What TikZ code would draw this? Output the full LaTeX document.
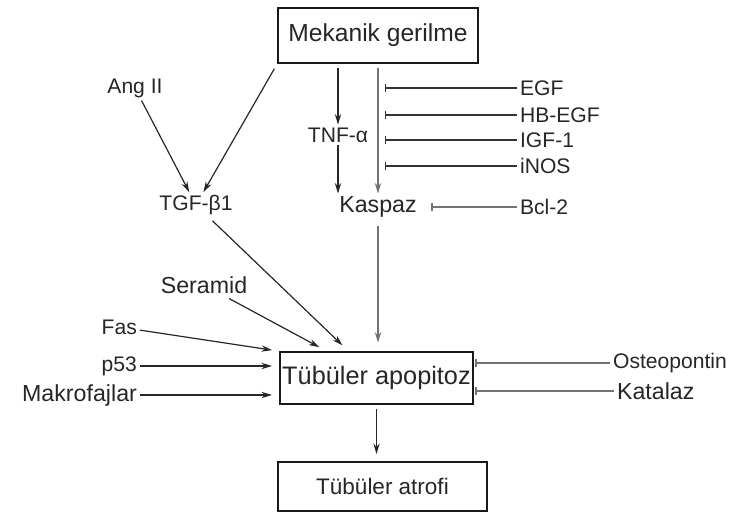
\documentclass[tikz,border=0pt]{standalone}
\usepackage{fontspec}
\setmainfont{Liberation Sans}
\usetikzlibrary{arrows.meta}

\begin{document}
\begin{tikzpicture}[x=0.025cm,y=-0.025cm,
  box/.style={draw=black!90,line width=1.2pt,inner sep=0pt,font=\fontsize{17}{19}\selectfont,text=black!85},
  lbl/.style={inner sep=2pt,font=\fontsize{15}{17}\selectfont,text=black!85},
  big/.style={lbl,font=\fontsize{16.5}{18}\selectfont},
  act/.style={-{Stealth[length=7.5pt,width=4.5pt]},draw=black!85,line width=0.85pt},
  actg/.style={act,draw=black!55,line width=1.3pt},
  inh/.style={-{Bar[width=6pt]},draw=black!80,line width=0.85pt},
  inhg/.style={inh,draw=black!55,line width=1.3pt}]
\useasboundingbox (0,0) rectangle (734,513);

% Boxes
\node[box,font=\fontsize{17.5}{19}\selectfont,minimum width=5cm,minimum height=1.375cm] (mek) at (378,35.5) {Mekanik gerilme};
\node[box,font=\fontsize{18}{20}\selectfont,minimum width=4.83cm,minimum height=1.3cm] (apop) at (376.5,378) {Tübüler apopitoz};
\node[box,font=\fontsize{16}{18}\selectfont,minimum width=5.23cm,minimum height=1.23cm] (atrofi) at (382.5,486.5) {Tübüler atrofi};

% Mediators
\node[lbl] (ang) at (135,88) {Ang II};
\node[lbl] (tgf) at (196,205) {TGF-β1};
\node[lbl] (tnf) at (338,135) {TNF-α};
\node[big] (kaspaz) at (378,207) {Kaspaz};
\node[big] (seramid) at (204,285) {Seramid};

% Inhibitors on the right
\node[lbl,anchor=west] (egf) at (517,88) {EGF};
\node[lbl,anchor=west] (hbegf) at (517,115) {HB-EGF};
\node[lbl,anchor=west] (igf) at (517,140) {IGF-1};
\node[lbl,anchor=west] (inos) at (517,166) {iNOS};
\node[lbl,anchor=west] (bcl) at (517,207) {Bcl-2};
\node[lbl,anchor=west] (osteo) at (610,363) {Osteopontin};
\node[big,anchor=west] (katalaz) at (614,391) {Katalaz};

% Inputs on the left
\node[lbl,anchor=east] (fas) at (140,327) {Fas};
\node[lbl,anchor=east] (p53) at (140,366) {p53};
\node[big,anchor=east] (makro) at (140,395) {Makrofajlar};

% Upper part
\draw[act] (ang) -- (tgf);
\draw[act,shorten <=4pt] (mek.south west) -- (tgf);
\draw[act,shorten <=3pt] (mek.south -| tnf) -- (tnf);
\draw[act] (tnf) -- (tnf |- kaspaz.north);
\draw[actg,shorten <=3pt] (mek.south -| kaspaz) -- (kaspaz);
\draw[inh,shorten >=5pt] (egf) -- (egf -| kaspaz);
\draw[inh,shorten >=5pt] (hbegf) -- (hbegf -| kaspaz);
\draw[inh,shorten >=5pt] (igf) -- (igf -| kaspaz);
\draw[inh,shorten >=5pt] (inos) -- (inos -| kaspaz);
\draw[inhg,shorten >=8pt] (bcl) -- (kaspaz);

% Into apoptosis
\draw[actg,shorten <=4pt,shorten >=6pt] (kaspaz) -- (kaspaz |- apop.north);
\draw[act,shorten <=3pt,shorten >=6pt] (tgf) -- (apop);
\draw[act,shorten <=3pt,shorten >=6pt] (seramid) -- (apop);
\draw[act,shorten >=5pt] (fas) -- (apop.north west);
\draw[act,shorten >=5pt] (p53) -- (p53 -| apop.west);
\draw[act,shorten >=5pt] (makro) -- (makro -| apop.west);
\draw[inhg,shorten >=1pt] (osteo) -- (osteo -| apop.east);
\draw[inhg,shorten >=1pt] (katalaz) -- (katalaz -| apop.east);

% Outcome
\draw[act,shorten <=3pt,shorten >=5pt] (apop.south) -- (apop.south |- atrofi.north);

\end{tikzpicture}
\end{document}
